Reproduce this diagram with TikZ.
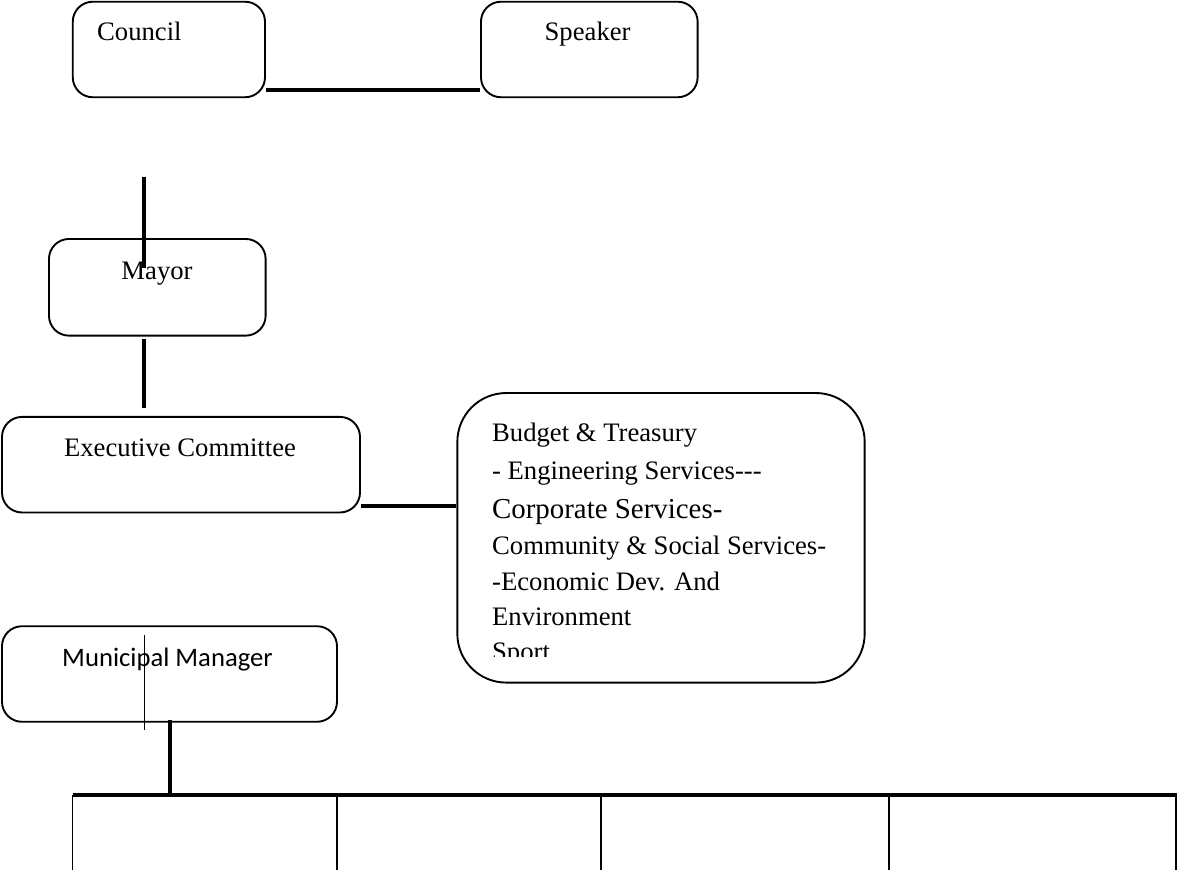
\documentclass[tikz,border=0pt]{standalone}
\usepackage{fontspec}
\setmainfont{Liberation Serif}
\newfontfamily\calibrifont{Carlito}
\usetikzlibrary{calc}

\tikzset{
    unit/.style={draw, line width=0.85pt, rounded corners=9pt, inner sep=0pt, minimum height=43pt},
    link/.style={line width=1.8pt},
    thinlink/.style={line width=0.7pt},
    lbl/.style={anchor=base, inner sep=0pt, font=\fontsize{12}{14}\selectfont}
}

\begin{document}
\begin{tikzpicture}[x=0.45pt, y=-0.45pt]
    \useasboundingbox (0,0) rectangle (1179,870);

    % Boxes
    \node[unit, minimum width=86.5pt] (council) at (168.9,49.5) {};
    \node[unit, minimum width=97.5pt] (speaker) at (589.3,49.5) {};
    \node[unit, minimum width=97.5pt, minimum height=43.5pt] (mayor) at (157.3,287.3) {};
    \node[unit, minimum width=161.1pt] (exec) at (181,464.7) {};
    \node[unit, minimum width=183.3pt, minimum height=130.3pt, rounded corners=22pt] (dept) at (661,537.8) {};
    \node[unit, minimum width=150.75pt] (mm) at (169.5,674) {};

    % Labels
    \node[lbl, anchor=base west] (councillbl) at (96.7,40.7) {Council};
    \node[lbl] (speakerlbl) at (587.6,40.7) {Speaker};
    \node[lbl] (mayorlbl) at (157,280) {Mayor};
    \node[lbl] (execlbl) at (180,456.7) {Executive Committee};
    \node[lbl, font=\calibrifont\fontsize{12}{14}\selectfont] (mmlbl) at (167.5,666.7) {Municipal Manager};

    % Departments (last line cut off by the box)
    \begin{scope}
        \clip (459,394) rectangle (863,656.7);
        \node[lbl, anchor=base west] (budget) at (491.7,441.7) {Budget \& Treasury};
        \node[lbl, anchor=base west] (eng) at (491.7,480) {- Engineering Services-\kern0pt-\kern0pt-};
        \node[lbl, anchor=base west, font=\fontsize{13}{15}\selectfont] (corp) at (491.7,518) {Corporate Services-};
        \node[lbl, anchor=base west] (comm) at (491.7,555) {Community \& Social Services-};
        \node[lbl, anchor=base west] (econ) at (491.7,590) {-Economic Dev. And};
        \node[lbl, anchor=base west] (env) at (491.7,625) {Environment};
        \node[lbl, anchor=base west] (sport) at (491.7,660.6) {Sport};
    \end{scope}

    % Council -- Speaker
    \coordinate (cj) at ([yshift=3.5pt]council.south east);
    \draw[link] (cj) -- (cj -| speaker.west);

    % Council down to Mayor
    \coordinate (m1) at (144.3,177);
    \coordinate (m2) at (144.3,268);
    \draw[link] (m1) -- (m2);
    \draw[link] ([yshift=-1pt]mayor.south -| m1) -- ([yshift=3.5pt]exec.north -| m1);

    % Executive Committee -- Departments
    \coordinate (ej) at ([yshift=3.5pt]exec.south east);
    \draw[link] (ej) -- (ej -| dept.west);

    % Municipal Manager
    \coordinate (t1) at (144.3,635);
    \coordinate (t2) at (144.3,730);
    \draw[thinlink] (t1) -- (t2);
    \coordinate (bus0) at (72.7,795);
    \coordinate (bus1) at (1177,795);
    \draw[link] ([yshift=1.3pt]mm.south) -- (mm.south |- bus0);
    \draw[link] (bus0) -- (bus1);
    \foreach \x [count=\i] in {72.7,337,601,889,1176}
        \draw[thinlink] (\x,795) coordinate (drop\i) -- ++(0,75);
\end{tikzpicture}
\end{document}
